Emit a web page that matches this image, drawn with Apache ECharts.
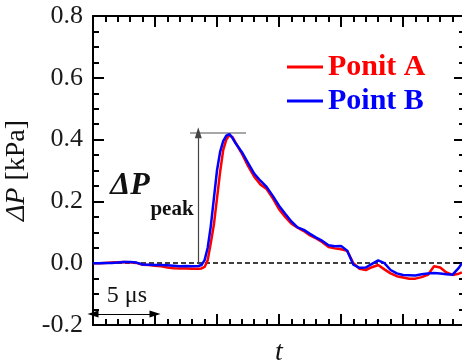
<!DOCTYPE html>
<html>
<head>
<meta charset="utf-8">
<script src="https://cdn.jsdelivr.net/npm/echarts@6/dist/echarts.min.js"></script>
<style>
  html, body { margin: 0; padding: 0; background: #fff; }
  #chart { width: 462px; height: 362px; }
</style>
</head>
<body>
<div id="chart"></div>
<script>
// time in microseconds
const timeUs = [
  0, 0.5, 1, 1.5, 2, 2.5, 3, 3.5, 4, 4.5, 5, 5.5, 6, 6.5, 7, 7.5, 8, 8.5,
  8.75, 9, 9.25, 9.5, 9.75, 10, 10.25, 10.5, 10.75, 11, 11.25, 11.5,
  12, 12.5, 13, 13.5, 14, 14.5, 15, 15.5, 16, 16.5, 17, 17.5, 18, 18.5,
  19, 19.5, 20, 20.5, 21, 21.5, 22, 22.5, 23, 23.5, 24, 24.5, 25, 25.5,
  26, 26.5, 27, 27.5, 28, 28.5, 29, 29.5, 29.75
]
// pressure difference in kPa
const pointA = [
  0.0, 0.0, 0.001, 0.002, 0.003, 0.004, 0.003, 0.001, -0.005, -0.006, -0.008, -0.010, -0.014, -0.016, -0.017, -0.017, -0.018, -0.018,
  -0.017, -0.012, 0.01, 0.065, 0.125, 0.21, 0.295, 0.366, 0.40, 0.414, 0.408, 0.39,
  0.355, 0.315, 0.28, 0.255, 0.24, 0.21, 0.175, 0.15, 0.128, 0.115, 0.104, 0.09, 0.08, 0.068,
  0.052, 0.048, 0.045, 0.04, 0.0, -0.018, -0.022, -0.013, -0.006, -0.02, -0.033, -0.042, -0.046, -0.05,
  -0.05, -0.045, -0.038, -0.01, -0.014, -0.03, -0.038, -0.034, -0.03
]
const pointB = [
  0.0, 0.0, 0.001, 0.001, 0.002, 0.004, 0.004, 0.002, -0.004, -0.005, -0.006, -0.006, -0.007, -0.008, -0.010, -0.009, -0.010, -0.009,
  -0.006, 0.01, 0.05, 0.12, 0.21, 0.30, 0.36, 0.395, 0.413, 0.418, 0.405, 0.388,
  0.36, 0.325, 0.29, 0.267, 0.247, 0.218, 0.186, 0.16, 0.135, 0.116, 0.108, 0.095, 0.083, 0.072,
  0.058, 0.055, 0.056, 0.04, -0.005, -0.015, -0.014, -0.002, 0.009, 0.0, -0.022, -0.033, -0.038, -0.039,
  -0.04, -0.036, -0.033, -0.032, -0.033, -0.036, -0.037, -0.015, 0.0
]
const seriesNames = ['Ponit A', 'Point B']
const seriesColors = ['#ff0000', '#0000ff']
const yTicks = [-0.2, 0.0, 0.2, 0.4, 0.6, 0.8]

// annotations (data units)
const peakLevel = 0.422
const peakLineT = [7.82, 12.34]
const peakArrowT = 8.49
const scaleBarT = [0, 5]
const scaleBarLevel = -0.164

const FONT = 'Liberation Serif'
const INK = '#111'

function zip(xs, ys) {
  return xs.map((x, i) => [x, ys[i]])
}

const tickStyle = { color: '#000', width: 2 }

function xAxisOf(position, withName) {
  return {
    type: 'value',
    position,
    min: 0,
    max: 30,
    interval: 5,
    axisLine: { show: true, onZero: false, lineStyle: { color: '#000', width: 2 } },
    axisTick: { show: true, inside: true, length: 11, lineStyle: tickStyle },
    minorTick: { show: true, splitNumber: 5, length: 6, lineStyle: tickStyle },
    axisLabel: { show: false },
    splitLine: { show: false },
    name: withName ? 't' : '',
    nameLocation: 'middle',
    nameGap: 14,
    nameTextStyle: { fontFamily: FONT, fontStyle: 'italic', fontSize: 28, color: INK },
  }
}

function yAxisOf(position, withLabels) {
  return {
    type: 'value',
    position,
    min: yTicks[0],
    max: yTicks[yTicks.length - 1],
    interval: 0.2,
    axisLine: { show: true, onZero: false, lineStyle: { color: '#000', width: 2 } },
    axisTick: { show: true, inside: true, length: 11, lineStyle: tickStyle },
    minorTick: { show: true, splitNumber: 4, length: 6, lineStyle: tickStyle },
    axisLabel: {
      show: withLabels,
      margin: 10,
      fontFamily: FONT,
      fontSize: 26,
      color: '#1a1a1a',
      formatter: (v) => v.toFixed(1),
    },
    splitLine: { show: false },
    name: withLabels ? '{i|ΔP} [kPa]' : '',
    nameLocation: 'middle',
    nameGap: 47,
    nameTextStyle: {
      fontFamily: FONT,
      fontSize: 28,
      color: INK,
      rich: { i: { fontFamily: FONT, fontSize: 28, fontStyle: 'italic', color: INK } },
    },
  }
}

const arrowHead = { symbol: 'triangle', symbolSize: [7, 11] }
const textPoint = (coord, formatter, extra) => ({
  coord,
  symbol: 'rect',
  symbolSize: 1,
  itemStyle: { color: 'rgba(0,0,0,0)' },
  label: Object.assign(
    { show: true, position: 'inside', formatter, fontFamily: FONT, color: INK },
    extra
  ),
})

const chart = echarts.init(document.getElementById('chart'), null, { renderer: 'canvas' })
chart.setOption({
  animation: false,
  backgroundColor: '#fff',
  grid: { left: 93, top: 16, width: 372, height: 309, containLabel: false, outerBoundsMode: 'none' },
  legend: {
    orient: 'vertical',
    left: 287,
    top: 52,
    padding: 0,
    itemGap: 4,
    itemWidth: 36,
    itemHeight: 3,
    icon: 'rect',
    selectedMode: false,
    textStyle: { fontFamily: FONT, fontWeight: 'bold', fontSize: 30, lineHeight: 30 },
    data: seriesNames.map((name, i) => ({ name, textStyle: { color: seriesColors[i] } })),
  },
  xAxis: [xAxisOf('bottom', true), xAxisOf('top', false)],
  yAxis: [yAxisOf('left', true), yAxisOf('right', false)],
  series: [
    {
      name: seriesNames[0],
      type: 'line',
      data: zip(timeUs, pointA),
      showSymbol: false,
      color: seriesColors[0],
      lineStyle: { width: 2.5, color: seriesColors[0] },
      z: 3,
    },
    {
      name: seriesNames[1],
      type: 'line',
      data: zip(timeUs, pointB),
      showSymbol: false,
      color: seriesColors[1],
      lineStyle: { width: 2.5, color: seriesColors[1] },
      z: 4,
      markLine: {
        silent: true,
        symbol: ['none', 'none'],
        label: { show: false },
        z: 2,
        data: [
          { yAxis: 0, lineStyle: { color: '#000', width: 1.5, type: [5, 3] } },
          [
            { coord: [peakLineT[0], peakLevel], lineStyle: { color: '#8a8a8a', width: 1.5, type: 'solid' } },
            { coord: [peakLineT[1], peakLevel] },
          ],
          [
            { coord: [peakArrowT, 0], symbol: 'none', lineStyle: { color: '#444', width: 1.2, type: 'solid' } },
            Object.assign({ coord: [peakArrowT, peakLevel] }, arrowHead),
          ],
          [
            Object.assign({ coord: [scaleBarT[0], scaleBarLevel], lineStyle: { color: '#000', width: 1.2, type: 'solid' } }, arrowHead),
            Object.assign({ coord: [scaleBarT[1], scaleBarLevel] }, arrowHead),
          ],
        ],
      },
      markPoint: {
        silent: true,
        data: [
          textPoint([2.98, 0.252], 'ΔP', { fontSize: 32, fontWeight: 'bold', fontStyle: 'italic' }),
          textPoint([6.37, 0.175], 'peak', { fontSize: 21, fontWeight: 'bold' }),
          textPoint([2.74, -0.104], '5 μs', { fontSize: 24 }),
        ],
      },
    },
  ],
})
</script>
</body>
</html>
